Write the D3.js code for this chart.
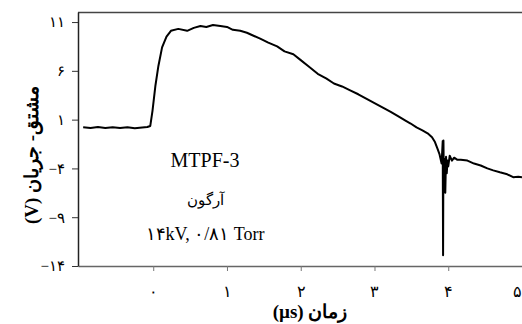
<!DOCTYPE html>
<html><head><meta charset="utf-8">
<script src="https://cdn.jsdelivr.net/npm/d3@7"></script>
<style>
html,body{margin:0;padding:0;background:#fff;}
svg{display:block;}
text{font-family:"Liberation Serif","DejaVu Serif",serif;}
</style></head>
<body>
<svg id="c" width="522" height="324"></svg>
<script>
// time (µs)
const timeUs = [-0.95,-0.85,-0.75,-0.65,-0.55,-0.45,-0.35,-0.25,-0.15,-0.08,-0.04,
  -0.01,0.03,0.07,0.12,0.18,0.24,0.34,0.46,0.55,0.64,0.72,0.81,0.91,1.0,1.08,1.18,1.27,1.36,1.45,1.56,1.68,1.78,1.9,2.0,2.1,2.23,
  2.35,2.45,2.56,2.67,2.78,2.9,3.0,3.12,3.22,3.33,3.42,3.49,3.57,3.65,3.72,3.78,3.82,3.85,3.88,3.91,
  3.925,3.93,3.935,3.94,3.95,3.96,3.97,3.98,3.99,4.0,4.02,4.05,4.08,4.12,4.17,4.26,4.35,4.44,4.53,4.61,4.7,4.8,4.88,4.95,5.0];
// current derivative (V)
const signalV = [0.22,0.15,0.24,0.14,0.22,0.15,0.23,0.12,0.2,0.24,0.35,
  1.9,4.5,6.5,8.4,9.5,10.1,10.3,10.1,10.4,10.6,10.5,10.7,10.6,10.5,10.2,10.1,9.9,9.6,9.3,8.9,8.5,8.0,7.7,7.1,6.5,5.7,
  5.2,4.7,4.4,4.0,3.6,3.1,2.7,2.2,1.8,1.3,0.9,0.6,0.2,-0.1,-0.4,-0.8,-1.3,-1.9,-2.5,-3.5,
  -1.2,-12.9,-1.15,-5.0,-3.0,-6.5,-2.8,-4.5,-3.2,-3.8,-2.7,-3.2,-2.9,-3.1,-3.1,-3.2,-3.5,-3.7,-4.0,-4.2,-4.4,-4.6,-4.9,-4.85,-4.9];
const xTickValues = [0,1,2,3,4,5];
const xTickLabels = ["۰","۱","۲","۳","۴","۵"];
const yTickValues = [-14,-9,-4,1,6,11];
const yTickLabels = ["−۱۴","−۹","−۴","۱","۶","۱۱"];
const annotationLines = ["MTPF-3","آرگون","۱۴kV, ۰/۸۱ Torr"];
const xTitle = "زمان (µs)";
const yTitle = "مشتق- جریان (V)";

const svg = d3.select("#c");
const L = 78, R = 522, T = 12, B = 266;
const x = d3.scaleLinear().domain([-1.02, 5.0]).range([L, R]);
const y = d3.scaleLinear().domain([-14, 12.03]).range([B, T]);

// top border
svg.append("line").attr("x1", L).attr("x2", R).attr("y1", T + 0.5).attr("y2", T + 0.5)
  .attr("stroke", "#444").attr("stroke-width", 1.5);

// x axis
const xAxis = svg.append("g").attr("transform", `translate(0,${B})`)
  .call(d3.axisBottom(x).tickValues(xTickValues).tickFormat((d,i) => xTickLabels[i]).tickSize(5).tickSizeOuter(0).tickPadding(15));
xAxis.select(".domain").attr("stroke", "#666").attr("stroke-width", 1.5);
xAxis.selectAll(".tick line").attr("stroke", "#777");
xAxis.selectAll("text").attr("font-size", 16).attr("fill", "#000");
xAxis.selectAll(".tick").filter(d => d === 5).select("text").attr("text-anchor", "end").attr("dx", -1);

// y axis
const yAxis = svg.append("g").attr("transform", `translate(${L},0)`)
  .call(d3.axisLeft(y).tickValues(yTickValues).tickFormat((d,i) => yTickLabels[i]).tickSize(6).tickSizeOuter(0).tickPadding(7));
yAxis.select(".domain").attr("stroke", "#222").attr("stroke-width", 1.5);
yAxis.selectAll(".tick line").attr("stroke", "#333");
yAxis.selectAll("text").attr("font-size", 15).attr("fill", "#000");

// signal line
const data = timeUs.map((t, i) => [t, signalV[i]]);
svg.append("path").datum(data)
  .attr("fill", "none").attr("stroke", "#000").attr("stroke-width", 2).attr("stroke-linejoin", "round")
  .attr("d", d3.line().x(d => x(d[0])).y(d => y(d[1])));

// annotation
const ax = 205;
const ay = [167, 205, 240];
const as = [20, 15, 18];
annotationLines.forEach((s, i) => {
  svg.append("text").attr("x", ax).attr("y", ay[i]).attr("text-anchor", "middle")
    .attr("font-size", as[i]).attr("fill", "#000").text(s);
});

// titles
svg.append("text").attr("x", 310).attr("y", 318).attr("text-anchor", "middle").attr("direction", "rtl")
  .attr("font-size", 19).attr("font-weight", "bold").attr("fill", "#000").text(xTitle);
svg.append("text").attr("transform", "translate(38,155) rotate(-90)").attr("text-anchor", "middle").attr("direction", "rtl")
  .attr("font-size", 19).attr("font-weight", "bold").attr("fill", "#000").text(yTitle);
</script>
</body></html>
